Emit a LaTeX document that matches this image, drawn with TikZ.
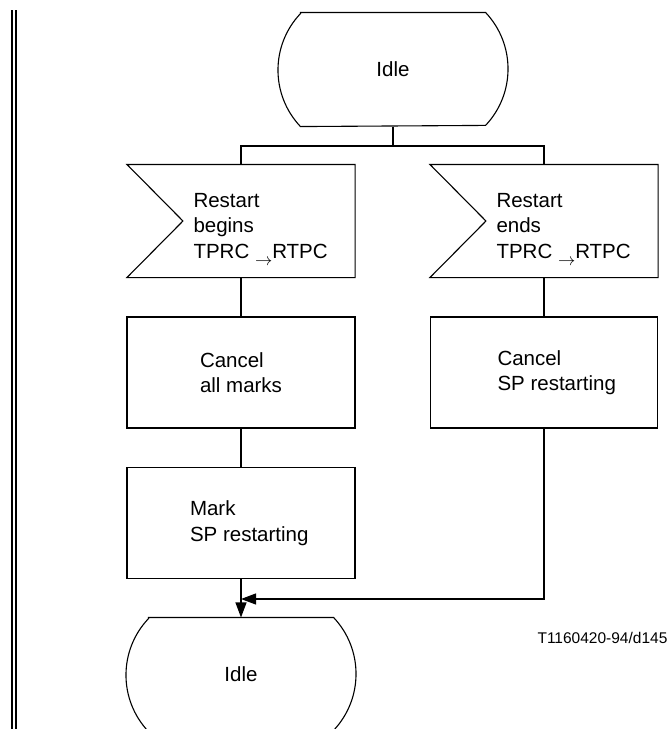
\documentclass[tikz,border=0pt]{standalone}
\usepackage{fontspec}
\setmainfont{Liberation Sans}
\usetikzlibrary{arrows.meta,positioning}

\begin{document}
\begin{tikzpicture}[
			x=1pt, y=1pt,
			line width=1.1pt,
			txt/.style={
				align=left,
				inner sep=0pt,
				font=\fontsize{20.5}{25.5}\selectfont
			},
			procbox/.style={
				draw,
				rectangle,
				minimum width=228pt,
				minimum height=111pt,
				inner sep=0pt
			},
			sdlinput/.style={
				rectangle,
				minimum width=227pt,
				minimum height=112pt,
				inner sep=0pt,
				append after command={\pgfextra{
					\draw (\tikzlastnode.north west) -- (\tikzlastnode.north east)
						-- (\tikzlastnode.south east) -- (\tikzlastnode.south west)
						-- ([xshift=56pt]\tikzlastnode.west) -- cycle;}}
			},
			sdlstate/.style={
				rectangle,
				minimum width=184pt,
				minimum height=113pt,
				inner sep=0pt,
				font=\fontsize{20.5}{25.5}\selectfont,
				append after command={\pgfextra{
					\draw (\tikzlastnode.north west) -- (\tikzlastnode.north east)
						arc[start angle=43.4, end angle=-43.4, radius=82.2pt]
						-- (\tikzlastnode.south west)
						arc[start angle=223.4, end angle=136.6, radius=82.2pt] -- cycle;}}
			},
			flow/.style={-{Triangle[length=15pt,width=11pt]}}
			]
			
			\clip (0,0) rectangle (672,-729);
			
			% Left border: double rule
			\draw (12,-10) -- (12,-729);
			\draw (16,-10) -- (16,-729);
			
			% States
			\node[sdlstate] (idleA) at (393,-69.5) {Idle};
			\node[sdlstate] (idleB) at (241,-674.5) {Idle};
			
			% Inputs
			\node[sdlinput] (sigBegin) at (241,-221) {};
			\node[sdlinput] (sigEnd) at (544,-221) {};
			\node[txt, right=66pt of sigBegin.west, yshift=-5pt] (sigBeginTxt)
				{Restart\\begins\\TPRC \raisebox{-7pt}[0pt][0pt]{\fontsize{17}{17}\selectfont$\rightarrow$}RTPC};
			\node[txt, right=66pt of sigEnd.west, yshift=-5pt] (sigEndTxt)
				{Restart\\ends\\TPRC \raisebox{-7pt}[0pt][0pt]{\fontsize{17}{17}\selectfont$\rightarrow$}RTPC};
			
			% Tasks
			\node[procbox] (cancelAll) at (241,-372.5) {};
			\node[procbox] (markSP) at (241,-523) {};
			\node[procbox, minimum width=227pt] (cancelSP) at (544,-372.5) {};
			\node[txt, right=73pt of cancelAll.west] (cancelAllTxt) {Cancel\\all marks};
			\node[txt, right=63pt of markSP.west] (markSPTxt) {Mark\\SP restarting};
			\node[txt, right=67pt of cancelSP.west] (cancelSPTxt) {Cancel\\SP restarting};
			
			% Figure tag
			\node[anchor=west, inner sep=0pt, font=\fontsize{15.5}{18}\selectfont] (figTag)
				at (537,-637.5) {T1160420-94/d145};
			
			% Fork below the first state
			\coordinate (fork) at (393,-146);
			\coordinate (merge) at (241,-599);
			\draw (idleA) -- (fork);
			\draw (fork) -| (sigBegin);
			\draw (fork) -| (sigEnd);
			
			% Left branch
			\draw (sigBegin) -- (cancelAll);
			\draw (cancelAll) -- (markSP);
			\draw[flow] (markSP) -- (idleB);
			
			% Right branch
			\draw (sigEnd) -- (cancelSP);
			\draw[flow] (cancelSP) |- (merge);
			
		\end{tikzpicture}
\end{document}
